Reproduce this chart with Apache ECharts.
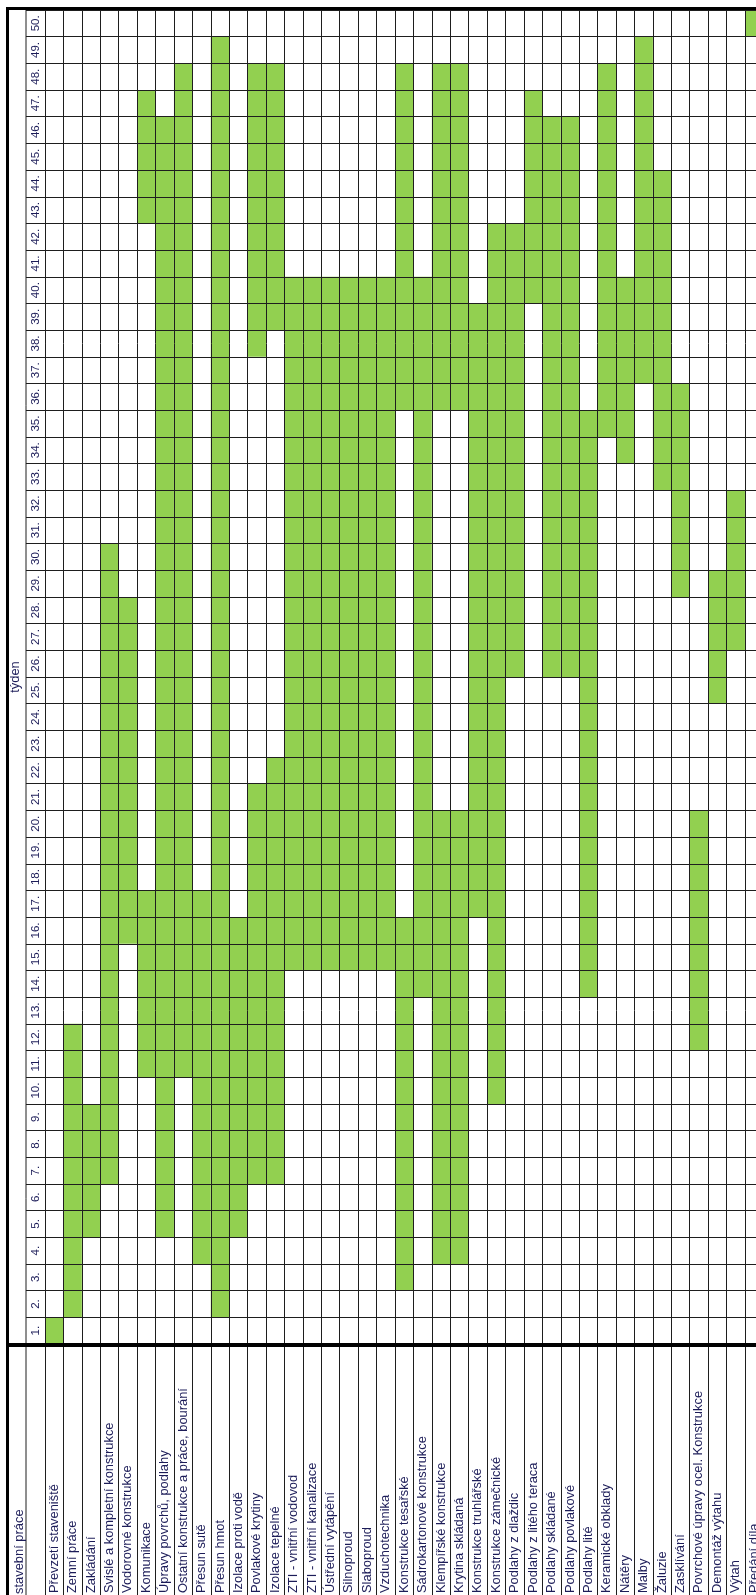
<!DOCTYPE html>
<html><head><meta charset="utf-8">
<script src="https://cdn.jsdelivr.net/npm/echarts@6/dist/echarts.min.js"></script>
<style>html,body{margin:0;padding:0;background:#fff}#c{width:756px;height:1595px}</style>
</head><body><div id="c"></div>
<script>
const tasks = [
  'Převzetí staveniště','Zemní práce','Zakládání','Svislé a kompletní konstrukce','Vodorovné konstrukce',
  'Komunikace','Úpravy povrchů, podlahy','Ostatní konstrukce a práce, bourání','Přesun sutě','Přesun hmot',
  'Izolace proti vodě','Povlakové krytiny','Izolace tepelné','ZTI - vnitřní vodovod','ZTI - vnitřní kanalizace',
  'Ústřední vytápění','Silnoproud','Slaboproud','Vzduchotechnika','Konstrukce tesařské',
  'Sádrokartonové konstrukce','Klempířské konstrukce','Krytina skládaná','Konstrukce truhlářské','Konstrukce zámečnické',
  'Podlahy z dlaždic','Podlahy z litého teraca','Podlahy skládané','Podlahy povlakové','Podlahy lité',
  'Keramické obklady','Nátěry','Malby','Žaluzie','Zasklívání',
  'Povrchové úpravy ocel. Konstrukce','Demontáž výtahu','Výtah','Předání díla'
];
const weekLabels = ['1.','2.','3.','4.','5.','6.','7.','8.','9.','10.','11.','12.','13.','14.','15.','16.','17.','18.','19.','20.',
  '21.','22.','23.','24.','25.','26.','27.','28.','29.','30.','31.','32.','33.','34.','35.','36.','37.','38.','39.','40.',
  '41.','42.','43.','44.','45.','46.','47.','48.','49.','50.'];
// week ranges [from, to] for each task (same order as tasks)
const schedule = [
  [[1,1]], [[2,12]], [[5,9]], [[7,30]], [[16,28]],
  [[11,17],[43,47]], [[5,46]], [[11,48]], [[4,17]], [[2,49]],
  [[5,16]], [[7,21],[38,48]], [[7,22],[39,48]], [[15,40]], [[15,40]],
  [[15,40]], [[15,40]], [[15,40]], [[15,40]], [[3,16],[36,48]],
  [[14,40]], [[4,20],[36,48]], [[4,20],[36,48]], [[17,39]], [[10,42]],
  [[26,42]], [[40,47]], [[26,46]], [[26,46]], [[14,35]],
  [[35,48]], [[34,40]], [[37,49]], [[33,44]], [[29,36]],
  [[12,20]], [[25,29]], [[27,32]], [[50,50]]
];

const segData = [];
schedule.forEach((segs, t) => segs.forEach(s => segData.push([t, s[0] - 1, s[1] - 1])));

const TXT = '#1c1c58';
const LINE = '#1e1e1e';
const FONT = "'Liberation Sans', Arial, sans-serif";
const chart = echarts.init(document.getElementById('c'), null, {renderer: 'canvas'});
chart.setOption({
  backgroundColor: '#ffffff',
  animation: false,
  grid: {left: 45, top: 10, width: 718.4, height: 1334, containLabel: false, outerBoundsMode: 'none'},
  xAxis: {
    type: 'category', data: tasks, position: 'bottom', z: 5,
    axisLine: {show: false},
    axisTick: {show: true, interval: 0, length: 260, lineStyle: {color: LINE, width: 1}},
    axisLabel: {interval: 0, rotate: 90, align: 'left', verticalAlign: 'middle', margin: 249,
      fontFamily: FONT, fontSize: 12.9, color: TXT},
    splitLine: {show: true, interval: 0, lineStyle: {color: LINE, width: 1}}
  },
  yAxis: {
    type: 'category', data: weekLabels, z: 5,
    name: 'týden', nameLocation: 'middle', nameGap: 26, nameRotate: 90,
    nameTextStyle: {fontFamily: FONT, fontSize: 12.9, color: TXT, align: 'center', verticalAlign: 'middle'},
    axisLine: {show: true, lineStyle: {color: LINE, width: 1}},
    axisTick: {show: true, interval: 0, length: 19, lineStyle: {color: LINE, width: 1}},
    axisLabel: {interval: 0, rotate: 90, align: 'center', verticalAlign: 'middle', margin: 9.5,
      fontFamily: FONT, fontSize: 11.5, color: TXT},
    splitLine: {show: true, interval: 0, lineStyle: {color: LINE, width: 1}}
  },
  series: [{
    type: 'custom', z: 2, data: segData,
    encode: {x: 0, y: [1, 2]},
    renderItem: function (params, api) {
      const a = api.coord([api.value(0), api.value(1)]);
      const b = api.coord([api.value(0), api.value(2)]);
      const sz = api.size([1, 1]);
      return {type: 'rect', shape: {x: a[0] - sz[0] / 2, y: b[1] - sz[1] / 2, width: sz[0], height: a[1] - b[1] + sz[1]},
        style: {fill: '#92D050'}};
    }
  }],
  graphic: [
    {type: 'line', z: 10, shape: {x1: 26, y1: 9, x2: 26, y2: 1595}, style: {stroke: LINE, lineWidth: 1}},
    {type: 'line', z: 10, shape: {x1: 6, y1: 1345, x2: 756, y2: 1345}, style: {stroke: '#000', lineWidth: 4}},
    {type: 'line', z: 10, shape: {x1: 6, y1: 8.5, x2: 756, y2: 8.5}, style: {stroke: '#000', lineWidth: 3}},
    {type: 'line', z: 10, shape: {x1: 7.5, y1: 7, x2: 7.5, y2: 1595}, style: {stroke: '#000', lineWidth: 3}},
    {type: 'text', z: 10, x: 19.5, y: 1594, rotation: Math.PI / 2,
      style: {text: 'stavební práce', fontFamily: FONT, fontSize: 12.9, fill: TXT, align: 'left', verticalAlign: 'middle'}}
  ]
});
</script></body></html>
